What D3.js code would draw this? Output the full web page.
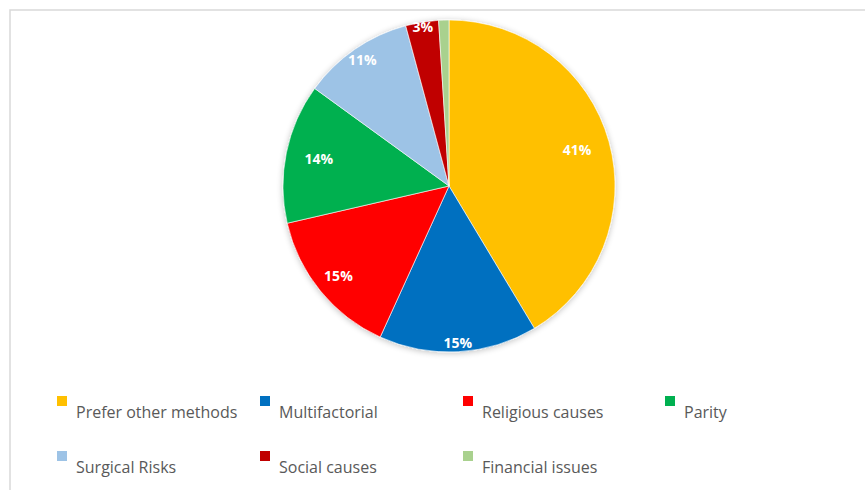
<!DOCTYPE html>
<html>
<head>
<meta charset="utf-8">
<script src="https://cdn.jsdelivr.net/npm/d3@7"></script>
<style>
  html, body { margin: 0; padding: 0; background: #fff; }
  #vis { width: 865px; height: 490px; }
</style>
</head>
<body>
<div id="vis"></div>
<script>
const categories = ["Prefer other methods", "Multifactorial", "Religious causes", "Parity",
    "Surgical Risks", "Social causes", "Financial issues"];
const values = [41.4, 15.4, 14.6, 13.6, 10.8, 3.2, 1.0];
const labels = ["41%", "15%", "15%", "14%", "11%", "3%", ""];
const colors = ["#FFC000", "#0070C0", "#FF0000", "#00B050", "#9DC3E6", "#C00000", "#A9D18E"];

const CONFIG = {
    w: 865,
    h: 490,
    cx: 449,
    cy: 186,
    r: 166,
    // how far out each label sits, as a share of the radius
    labelR: [0.8, 0.95, 0.86, 0.8, 0.92, 0.97, 0.9],
    legend: { cols: [57, 260, 463, 665], rows: [396, 451], box: 10 }
};

const svg = d3.select("#vis")
    .append("svg")
    .attr("width", CONFIG.w)
    .attr("height", CONFIG.h);

// chart frame
svg.append("rect")
    .attr("x", 10)
    .attr("y", 10)
    .attr("width", CONFIG.w + 20)
    .attr("height", CONFIG.h + 20)
    .attr("fill", "#fff")
    .attr("stroke", "#d9d9d9")
    .attr("stroke-width", 1.5);

const defs = svg.append("defs");
const shadow = defs.append("filter").attr("id", "shadow")
    .attr("x", "-10%").attr("y", "-10%").attr("width", "120%").attr("height", "120%");
shadow.append("feGaussianBlur").attr("in", "SourceAlpha").attr("stdDeviation", 3);
shadow.append("feOffset").attr("dx", 0).attr("dy", 1).attr("result", "b");
shadow.append("feComponentTransfer").append("feFuncA").attr("type", "linear").attr("slope", 0.25);
const merge = shadow.append("feMerge");
merge.append("feMergeNode");
merge.append("feMergeNode").attr("in", "SourceGraphic");

const data = categories.map((c, i) => ({ name: c, value: values[i], label: labels[i], i }));

const pie = d3.pie().value(d => d.value).sort(null);
const arcs = pie(data);
const arc = d3.arc().innerRadius(0).outerRadius(CONFIG.r);

const g = svg.append("g")
    .attr("transform", `translate(${CONFIG.cx},${CONFIG.cy})`);

g.append("g")
    .attr("filter", "url(#shadow)")
    .selectAll("path")
    .data(arcs)
    .join("path")
    .attr("d", arc)
    .attr("fill", d => colors[d.data.i])
    .attr("stroke", "#fff")
    .attr("stroke-width", 0.6);

g.selectAll("text.lbl")
    .data(arcs)
    .join("text")
    .attr("class", "lbl")
    .attr("transform", d => {
        const rr = CONFIG.r * CONFIG.labelR[d.data.i];
        const a = (d.startAngle + d.endAngle) / 2;
        return `translate(${Math.sin(a) * rr},${-Math.cos(a) * rr})`;
    })
    .attr("text-anchor", "middle")
    .attr("dy", "0.35em")
    .attr("fill", "#fff")
    .style("font-family", "'Open Sans', sans-serif")
    .style("font-size", "14px")
    .style("font-weight", "bold")
    .text(d => d.data.label);

// legend, 4 per row
const leg = svg.selectAll("g.leg")
    .data(data)
    .join("g")
    .attr("class", "leg")
    .attr("transform", d => `translate(${CONFIG.legend.cols[d.i % 4]},${CONFIG.legend.rows[Math.floor(d.i / 4)]})`);

leg.append("rect")
    .attr("width", CONFIG.legend.box)
    .attr("height", CONFIG.legend.box)
    .attr("fill", d => colors[d.i]);

leg.append("text")
    .attr("x", 19)
    .attr("y", 22)
    .attr("fill", "#595959")
    .style("font-family", "'Open Sans', sans-serif")
    .style("font-size", "16px")
    .text(d => d.name);
</script>
</body>
</html>
